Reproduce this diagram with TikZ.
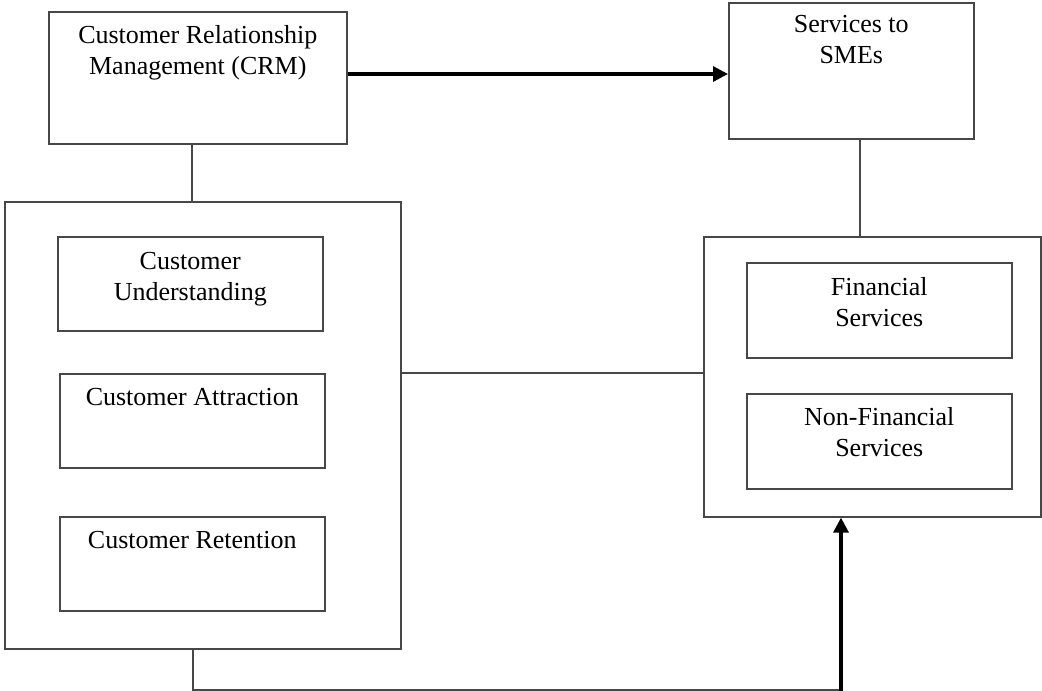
\documentclass[tikz,border=0pt]{standalone}
\usepackage{fontspec}
\setmainfont{Liberation Serif}
\usetikzlibrary{arrows.meta}
\begin{document}
\begin{tikzpicture}[x=1pt,y=-1pt,
  box/.style={draw=black!72,line width=1.6pt,anchor=north west,inner sep=0pt},
  lbl/.style={anchor=north,align=center,inner sep=0pt,font=\fontsize{26}{31.5}\selectfont},
  conn/.style={draw=black!72,line width=1.6pt},
  thickarrow/.style={draw=black,line width=3.2pt,-{Triangle[length=15pt,width=15pt]}}]
\useasboundingbox (0,0) rectangle (1042,691);
% top boxes
\node[box,minimum width=298pt,minimum height=132pt] (crm) at (48,11) {};
\node[lbl] (crmt) at ([yshift=-14pt]crm.north) {Customer Relationship\\Management (CRM)};
\node[box,minimum width=245pt,minimum height=136pt] (sme) at (728,2) {};
\node[lbl] (smet) at ([yshift=-13pt]sme.north) {Services to\\SMEs};
% left group
\node[box,minimum width=396pt,minimum height=447pt] (left) at (4,201) {};
\node[box,minimum width=265pt,minimum height=94pt] (cu) at (57,236) {};
\node[lbl] (cut) at ([yshift=-16pt]cu.north) {Customer\\Understanding};
\node[box,minimum width=265pt,minimum height=94pt] (ca) at (59,373) {};
\node[lbl] (cat) at ([yshift=-15pt]ca.north) {Customer Attraction};
\node[box,minimum width=265pt,minimum height=94pt] (cr) at (59,516) {};
\node[lbl] (crt) at ([yshift=-15pt]cr.north) {Customer Retention};
% right group
\node[box,minimum width=337pt,minimum height=280pt] (right) at (703,236) {};
\node[box,minimum width=265pt,minimum height=95pt] (fs) at (746,262) {};
\node[lbl] (fst) at ([yshift=-15pt]fs.north) {Financial\\Services};
\node[box,minimum width=265pt,minimum height=95pt] (nfs) at (746,393) {};
\node[lbl] (nfst) at ([yshift=-14pt]nfs.north) {Non-Financial\\Services};
% connectors
\draw[thickarrow] (crm.east |- 0,74) -- (sme.west |- 0,74);
\draw[conn] (crm.south -| 192,0) -- (left.north -| 192,0);
\draw[conn] (sme.south -| 860,0) -- (right.north -| 860,0);
\draw[conn] (left.east |- 0,373) -- (right.west |- 0,373);
\coordinate (corner) at (841,690);
\draw[conn] (left.south -| 193,0) -- (193,690) -- (corner);
\draw[thickarrow] ([yshift=-0.8pt]corner) -- (right.south -| corner);
\end{tikzpicture}
\end{document}
